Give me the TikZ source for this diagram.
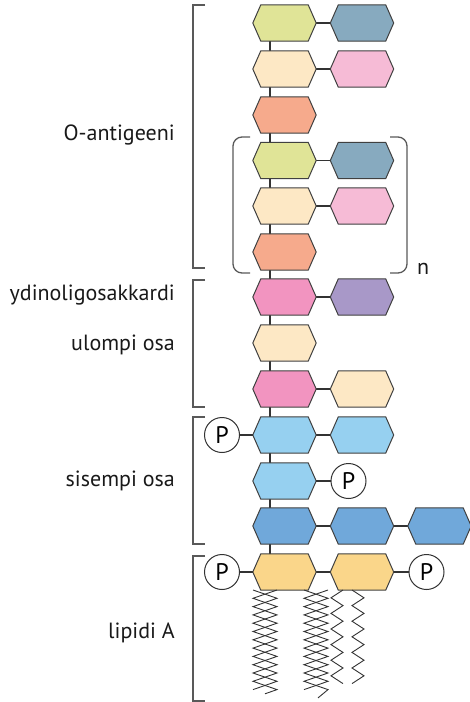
\documentclass[tikz,border=0pt]{standalone}
\usepackage{fontspec}
\setmainfont{PT Sans}
\definecolor{sgOlive}{RGB}{224,228,151}
\definecolor{sgSteel}{RGB}{135,170,191}
\definecolor{sgPeach}{RGB}{253,232,197}
\definecolor{sgRose}{RGB}{246,187,214}
\definecolor{sgSalmon}{RGB}{246,170,140}
\definecolor{sgMagenta}{RGB}{242,148,192}
\definecolor{sgLavender}{RGB}{168,152,200}
\definecolor{sgSky}{RGB}{150,208,240}
\definecolor{sgBlue}{RGB}{112,168,218}
\definecolor{sgGold}{RGB}{250,214,138}
% hexagonal sugar drawn over an invisible rectangle node
\newcommand\hexfill[2]{%
  \path[hexline, fill=#2] (#1.west) -- ([xshift=8pt]#1.north west)
    -- ([xshift=-8pt]#1.north east) -- (#1.east)
    -- ([xshift=-8pt]#1.south east) -- ([xshift=8pt]#1.south west) -- cycle;}
\begin{document}
\begin{tikzpicture}[x=1pt,y=-1pt,
  sugar/.style={rectangle, minimum width=63pt, minimum height=36pt, inner sep=0pt},
  edge/.style={draw=black!80, line width=1.2pt},
  hexline/.style={draw=black!75, line width=1pt},
  phos/.style={circle, draw=black!80, line width=1pt, fill=white,
    minimum size=35pt, inner sep=0pt, font=\fontsize{24}{24}\selectfont},
  brace/.style={draw=black!65, line width=1.5pt},
  paren/.style={draw=black!65, line width=1.3pt, rounded corners=9pt},
  lbl/.style={anchor=base east, inner sep=0pt, font=\fontsize{22}{26}\selectfont, text=black!90},
  chain/.style={draw=black!80, line width=0.9pt}
]
\useasboundingbox (0,0) rectangle (470,702);

% sugar positions
\node[sugar] (o1a) at (284.5,23) {};   \node[sugar] (o1b) at (362,23) {};
\node[sugar] (o2a) at (284.5,69) {};   \node[sugar] (o2b) at (362,69) {};
\node[sugar] (o3a) at (284.5,115) {};
\node[sugar] (o4a) at (284.5,160.5) {}; \node[sugar] (o4b) at (362,160.5) {};
\node[sugar] (o5a) at (284.5,206) {};  \node[sugar] (o5b) at (362,206) {};
\node[sugar] (o6a) at (284.5,252) {};
\node[sugar] (c1a) at (284.5,297) {};  \node[sugar] (c1b) at (362,297) {};
\node[sugar] (c2a) at (284.5,343) {};
\node[sugar] (c3a) at (284.5,389) {};  \node[sugar] (c3b) at (362,389) {};
\node[sugar] (i1a) at (284.5,435) {};  \node[sugar] (i1b) at (362,435) {};
\node[sugar] (i2a) at (284.5,481) {};
\node[sugar] (i3a) at (284.5,526) {};  \node[sugar] (i3b) at (362,526) {};
\node[sugar] (i3c) at (439.5,526) {};
\node[sugar] (l1) at (284.5,572) {};   \node[sugar] (l2) at (362,572) {};

% backbone and side links
\draw[edge] ([xshift=-14.5pt]o1a.south) -- ([xshift=-14.5pt]l1.north);
\foreach \a/\b in {o1a/o1b,o2a/o2b,o4a/o4b,o5a/o5b,c1a/c1b,c3a/c3b,
                   i1a/i1b,i3a/i3b,i3b/i3c,l1/l2}
  \draw[edge] (\a.east) -- (\b.west);

% sugars
\hexfill{o1a}{sgOlive}  \hexfill{o1b}{sgSteel}
\hexfill{o2a}{sgPeach}  \hexfill{o2b}{sgRose}
\hexfill{o3a}{sgSalmon}
\hexfill{o4a}{sgOlive}  \hexfill{o4b}{sgSteel}
\hexfill{o5a}{sgPeach}  \hexfill{o5b}{sgRose}
\hexfill{o6a}{sgSalmon}
\hexfill{c1a}{sgMagenta} \hexfill{c1b}{sgLavender}
\hexfill{c2a}{sgPeach}
\hexfill{c3a}{sgMagenta} \hexfill{c3b}{sgPeach}
\hexfill{i1a}{sgSky}    \hexfill{i1b}{sgSky}
\hexfill{i2a}{sgSky}
\hexfill{i3a}{sgBlue}   \hexfill{i3b}{sgBlue}   \hexfill{i3c}{sgBlue}
\hexfill{l1}{sgGold}    \hexfill{l2}{sgGold}

% phosphate groups
\node[phos] (p1) at (222,435) {P};
\node[phos] (p2) at (348.5,481) {P};
\node[phos] (p3) at (222,572) {P};
\node[phos] (p4) at (426.5,572) {P};
\draw[edge] (p1.east) -- (i1a.west);
\draw[edge] (i2a.east) -- (p2.west);
\draw[edge] (p3.east) -- (l1.west);
\draw[edge] (l2.east) -- (p4.west);

% fatty acid chains
\coordinate (f1a) at (253,590); \coordinate (f1b) at (277,590);
\coordinate (f2a) at (304,590); \coordinate (f2b) at (328,590);
\coordinate (f3) at (343,590);  \coordinate (f4) at (352,590);
\draw[chain] (f1a) \foreach \k in {1,...,6}{ -- ++(24,8.3) -- ++(-24,8.3)};
\draw[chain] (f1b) \foreach \k in {1,...,6}{ -- ++(-24,8.3) -- ++(24,8.3)} -- ++(-12,4.2);
\draw[chain] (f2a) \foreach \k in {1,...,6}{ -- ++(24,8.3) -- ++(-24,8.3)};
\draw[chain] (f2b) \foreach \k in {1,...,6}{ -- ++(-24,8.3) -- ++(24,8.3)} -- ++(-10,8.3);
\draw[chain] (f3) \foreach \k in {1,...,6}{ -- ++(-12,7.8) -- ++(12,7.8)};
\draw[chain] (f4) \foreach \k in {1,...,6}{ -- ++(12,7.8) -- ++(-12,7.8)};

% section brackets
\draw[brace] (205,5) -- (193,5) -- (193,268) -- (205,268);
\draw[brace] (205,280) -- (193,280) -- (193,407) -- (205,407);
\draw[brace] (205,417) -- (193,417) -- (193,544) -- (205,544);
\draw[brace] (205,556) -- (193,556) -- (193,701) -- (205,701);

% repeating unit
\draw[paren] (250,137) -- (233,137) -- (233,273) -- (250,273);
\draw[paren] (390,137) -- (407,137) -- (407,273) -- (390,273);
\node[anchor=base west, inner sep=0pt, font=\fontsize{22}{26}\selectfont, text=black!90] (rep) at (417,274) {n};

% labels
\node[lbl] (tO) at (175,140) {O-antigeeni};
\node[lbl] (tCore) at (175,300) {ydinoligosakkardi};
\node[lbl] (tOuter) at (175,350) {ulompi osa};
\node[lbl] (tInner) at (175,486) {sisempi osa};
\node[lbl] (tLip) at (175,638) {lipidi A};
\end{tikzpicture}
\end{document}
